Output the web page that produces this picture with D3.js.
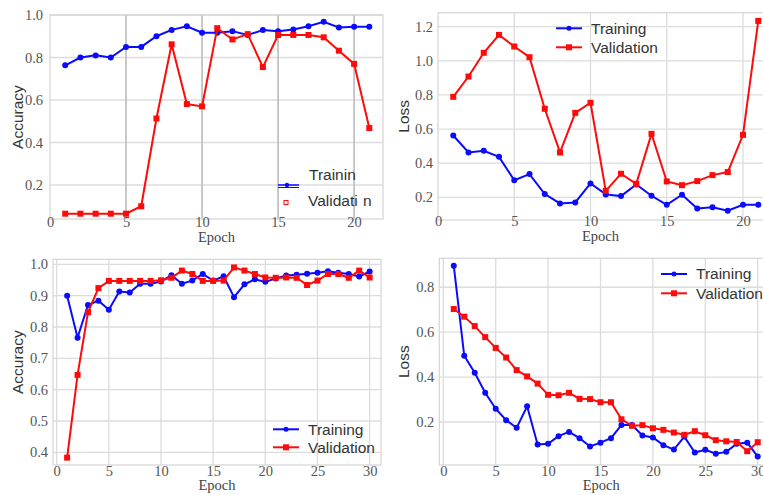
<!DOCTYPE html>
<html>
<head>
<meta charset="utf-8">
<script src="https://cdn.jsdelivr.net/npm/d3@7"></script>
<style>
  body { margin: 0; background: #fff; }
  .tick text { font-family: "Liberation Serif", "Times New Roman", serif; font-size: 14.5px; fill: #555; }
  .xtitle { font-family: "Liberation Serif", serif; font-size: 14.5px; fill: #444; }
  .ytitle { font-family: "Liberation Sans", Arial, sans-serif; font-size: 15.5px; fill: #333; }
  .legend text { font-family: "Liberation Sans", Arial, sans-serif; font-size: 15.5px; fill: #333; }
</style>
</head>
<body>
<div id="chart"></div>
<script>
// run 1 (21 epochs)
let accTrain1 = [0.763, 0.80, 0.81, 0.80, 0.85, 0.85, 0.90, 0.93, 0.947, 0.917, 0.917,
  0.924, 0.906, 0.929, 0.924, 0.932, 0.947, 0.968, 0.941, 0.945, 0.945];
let accVal1 = [0.065, 0.065, 0.065, 0.065, 0.065, 0.10, 0.513, 0.862, 0.581, 0.57, 0.938,
  0.885, 0.91, 0.755, 0.906, 0.906, 0.906, 0.895, 0.832, 0.77, 0.468];
let lossTrain1 = [0.562, 0.463, 0.473, 0.437, 0.30, 0.336, 0.219, 0.164, 0.170, 0.281, 0.217,
  0.207, 0.275, 0.209, 0.156, 0.215, 0.135, 0.141, 0.121, 0.156, 0.156];
let lossVal1 = [0.789, 0.908, 1.047, 1.152, 1.084, 1.021, 0.719, 0.463, 0.695, 0.754, 0.238,
  0.338, 0.279, 0.572, 0.293, 0.271, 0.295, 0.330, 0.348, 0.566, 1.234];

// run 2 (30 epochs)
let accTrain2 = [0.90, 0.766, 0.870, 0.884, 0.855, 0.913, 0.910, 0.938, 0.938, 0.945,
  0.965, 0.938, 0.948, 0.969, 0.948, 0.962, 0.895, 0.936, 0.952, 0.944,
  0.955, 0.964, 0.967, 0.970, 0.973, 0.978, 0.973, 0.969, 0.961, 0.977];
let accVal2 = [0.383, 0.647, 0.847, 0.924, 0.947, 0.947, 0.947, 0.947, 0.947, 0.949,
  0.957, 0.980, 0.969, 0.947, 0.947, 0.948, 0.990, 0.980, 0.969, 0.958,
  0.957, 0.958, 0.957, 0.934, 0.948, 0.969, 0.969, 0.957, 0.980, 0.958];
let lossTrain2 = [0.896, 0.495, 0.419, 0.330, 0.259, 0.208, 0.174, 0.270, 0.100, 0.103,
  0.137, 0.156, 0.128, 0.091, 0.108, 0.128, 0.187, 0.187, 0.140, 0.131,
  0.097, 0.077, 0.135, 0.064, 0.076, 0.059, 0.067, 0.103, 0.108, 0.046];
let lossVal2 = [0.703, 0.669, 0.627, 0.578, 0.530, 0.487, 0.431, 0.403, 0.371, 0.321,
  0.319, 0.330, 0.303, 0.302, 0.288, 0.288, 0.212, 0.183, 0.186, 0.172,
  0.165, 0.153, 0.143, 0.159, 0.141, 0.119, 0.114, 0.111, 0.070, 0.110];

// tick labels
let xTicks21 = [0, 5, 10, 15, 20];
let xTicks30 = [0, 5, 10, 15, 20, 25, 30];
let accTicks1 = [0.2, 0.4, 0.6, 0.8, 1.0];
let lossTicks1 = [0.2, 0.4, 0.6, 0.8, 1.0, 1.2];
let accTicks2 = [0.4, 0.5, 0.6, 0.7, 0.8, 0.9, 1.0];
let lossTicks2 = [0.2, 0.4, 0.6, 0.8];
let seriesNames = ["Training", "Validation"];

let blue = "#0a0aff", red = "#ff0a0a";

let svg = d3.select("#chart").append("svg")
  .attr("width", 763)
  .attr("height", 495);

function drawPanel(p) {
  let x = d3.scaleLinear().domain(p.xDomain).range([p.left, p.right]);
  let y = d3.scaleLinear().domain(p.yDomain).range([p.bottom, p.top]);
  let g = svg.append("g");

  // horizontal grid
  g.append("g")
    .selectAll("line")
    .data(p.yTicks)
    .enter()
    .append("line")
    .attr("x1", p.left).attr("x2", p.right)
    .attr("y1", d => y(d)).attr("y2", d => y(d))
    .attr("stroke", "#dcdcdc").attr("stroke-width", 1.3);

  // vertical grid
  g.append("g")
    .selectAll("line")
    .data(p.xTicks.filter(d => d > p.xDomain[0] + 0.01))
    .enter()
    .append("line")
    .attr("x1", d => x(d)).attr("x2", d => x(d))
    .attr("y1", p.top).attr("y2", p.bottom)
    .attr("stroke", p.vGrid || "#dcdcdc").attr("stroke-width", p.vGridW || 1.3);

  // frame
  g.append("rect")
    .attr("x", p.left).attr("y", p.top)
    .attr("width", p.right - p.left).attr("height", p.bottom - p.top)
    .attr("fill", "none").attr("stroke", "#d4d4d4").attr("stroke-width", 1.2);

  // axes (labels only)
  let yAxis = g.append("g")
    .attr("transform", `translate(${p.left},0)`)
    .call(d3.axisLeft(y).tickValues(p.yTicks).tickSize(0).tickPadding(p.yPad).tickFormat(d3.format(".1f")));
  yAxis.select(".domain").remove();

  let xAxis = g.append("g")
    .attr("transform", `translate(0,${p.bottom})`)
    .call(d3.axisBottom(x).tickValues(p.xTicks).tickSize(0).tickPadding(p.xPad).tickFormat(d3.format("d")));
  xAxis.select(".domain").remove();

  g.append("text").attr("class", "xtitle")
    .attr("x", (p.left + Math.min(p.right, 763)) / 2)
    .attr("y", p.bottom + p.titleGap)
    .attr("text-anchor", "middle")
    .text("Epoch");

  g.append("text").attr("class", "ytitle")
    .attr("transform", `translate(${p.yTitleX},${(p.top + p.bottom) / 2}) rotate(-90)`)
    .attr("text-anchor", "middle")
    .attr("dy", "0.35em")
    .text(p.yTitle);

  let line = d3.line().x((d, i) => x(i + 1)).y(d => y(d));

  // training
  g.append("path").datum(p.train)
    .attr("d", line).attr("fill", "none")
    .attr("stroke", blue).attr("stroke-width", 2);
  g.append("g").selectAll("circle")
    .data(p.train).enter().append("circle")
    .attr("cx", (d, i) => x(i + 1)).attr("cy", d => y(d))
    .attr("r", 3).attr("fill", blue);

  // validation
  g.append("path").datum(p.val)
    .attr("d", line).attr("fill", "none")
    .attr("stroke", red).attr("stroke-width", 2);
  g.append("g").selectAll("rect.m")
    .data(p.val).enter().append("rect")
    .attr("class", "m")
    .attr("x", (d, i) => x(i + 1) - 3).attr("y", d => y(d) - 3)
    .attr("width", 6).attr("height", 6).attr("fill", red);

  if (p.legend) {
    let lg = g.append("g").attr("class", "legend");
    let L = p.legend;
    [blue, red].forEach((c, k) => {
      let yy = L.y + k * L.dy;
      lg.append("line")
        .attr("x1", L.x).attr("x2", L.x + 26)
        .attr("y1", yy).attr("y2", yy)
        .attr("stroke", c).attr("stroke-width", 2);
      if (k === 0) {
        lg.append("circle").attr("cx", L.x + 13).attr("cy", yy).attr("r", 2.5).attr("fill", c);
      } else {
        lg.append("rect").attr("x", L.x + 10).attr("y", yy - 3).attr("width", 6).attr("height", 6).attr("fill", c);
      }
      lg.append("text")
        .attr("x", L.x + 35).attr("y", yy).attr("dy", "0.35em")
        .text(seriesNames[k]);
    });
  }
  return g;
}

let p1 = drawPanel({
  left: 50, top: 15, right: 383, bottom: 219,
  xDomain: [0, 21.9], yDomain: [0.04, 1.0],
  xTicks: xTicks21, yTicks: accTicks1,
  train: accTrain1, val: accVal1,
  yTitle: "Accuracy", yTitleX: 18, xPad: -2, yPad: 7, titleGap: 23,
  vGrid: "#c2c2c2", vGridW: 1.8
});

// broken legend of the first panel
let lg1 = p1.append("g").attr("class", "legend");
lg1.append("line")
  .attr("x1", 278).attr("x2", 299).attr("y1", 185).attr("y2", 185)
  .attr("stroke", blue).attr("stroke-width", 1.5);
lg1.append("line")
  .attr("x1", 278).attr("x2", 299).attr("y1", 187.5).attr("y2", 187.5)
  .attr("stroke", blue).attr("stroke-width", 1);
lg1.append("circle").attr("cx", 287).attr("cy", 185).attr("r", 2.2).attr("fill", blue);
lg1.append("text").attr("x", 309).attr("y", 175).attr("dy", "0.35em").text("Trainin");
lg1.append("rect").attr("x", 284).attr("y", 200.5).attr("width", 4).attr("height", 4)
  .attr("fill", "none").attr("stroke", red).attr("stroke-width", 1);
lg1.append("text").attr("x", 308).attr("y", 201).attr("dy", "0.35em").text("Validati");
lg1.append("text").attr("x", 363).attr("y", 201).attr("dy", "0.35em").text("n");

drawPanel({
  left: 438, top: 12.7, right: 770, bottom: 220,
  xDomain: [0, 21.77], yDomain: [0.067, 1.282],
  xTicks: xTicks21, yTicks: lossTicks1,
  train: lossTrain1, val: lossVal1,
  yTitle: "Loss", yTitleX: 404, xPad: -4.5, yPad: 5, titleGap: 21,
  legend: { x: 556, y: 28.3, dy: 19 }
});

drawPanel({
  left: 53, top: 259.3, right: 381, bottom: 465,
  xDomain: [-0.355, 31.09], yDomain: [0.3595, 1.016],
  xTicks: xTicks30, yTicks: accTicks2,
  train: accTrain2, val: accVal2,
  yTitle: "Accuracy", yTitleX: 18, xPad: 0.5, yPad: 5, titleGap: 24.5,
  legend: { x: 273, y: 429.3, dy: 18 }
});

drawPanel({
  left: 439.3, top: 258.3, right: 775, bottom: 465,
  xDomain: [-0.38, 31.65], yDomain: [0.0085, 0.929],
  xTicks: xTicks30, yTicks: lossTicks2,
  train: lossTrain2, val: lossVal2,
  yTitle: "Loss", yTitleX: 404, xPad: 0.5, yPad: 5, titleGap: 25,
  legend: { x: 661, y: 274, dy: 19.3 }
});
</script>
</body>
</html>
